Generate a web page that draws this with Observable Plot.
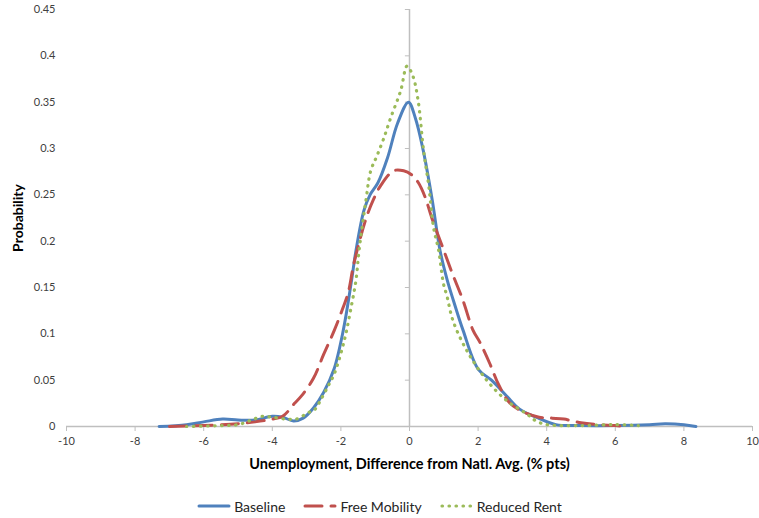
<!DOCTYPE html>
<html>
<head>
<meta charset="utf-8">
<script src="https://cdn.jsdelivr.net/npm/d3@7"></script>
<script src="https://cdn.jsdelivr.net/npm/@observablehq/plot@0.6"></script>
<style>
  html, body { margin: 0; padding: 0; background: #fff; }
  #wrap { width: 759px; height: 518px; font-family: Lato, "Open Sans", sans-serif; }
  #legend { display: flex; justify-content: center; align-items: center; height: 22px; margin-top: 10px; font-size: 14px; color: #262626; }
  .item { display: flex; align-items: center; margin: 0 9px; }
  .item svg { margin-right: 3px; }
</style>
</head>
<body>
<div id="wrap"></div>
<script>
// ---- data ----
const xTicks = [-10, -8, -6, -4, -2, 0, 2, 4, 6, 8, 10];
const yTicks = [0, 0.05, 0.1, 0.15, 0.2, 0.25, 0.3, 0.35, 0.4, 0.45];
const seriesNames = ["Baseline", "Free Mobility", "Reduced Rent"];

const baselineX = [-7.3, -6.5, -6.0, -5.45, -5.0, -4.5, -4.0, -3.7, -3.38, -3.1, -2.8, -2.5, -2.2, -1.93, -1.7, -1.56, -1.33, -1.15, -0.92, -0.64, -0.35, -0.03, 0.17, 0.4, 0.66, 0.89, 1.1, 1.28, 1.56, 2.0, 2.39, 2.83, 3.2, 3.69, 4.27, 5.0, 6.0, 7.0, 7.45, 8.0, 8.35];
const baselineY = [0, 0.002, 0.005, 0.008, 0.007, 0.007, 0.011, 0.01, 0.006, 0.009, 0.02, 0.037, 0.062, 0.104, 0.155, 0.19, 0.233, 0.25, 0.263, 0.29, 0.327, 0.35, 0.333, 0.298, 0.245, 0.19, 0.158, 0.136, 0.104, 0.062, 0.05, 0.033, 0.019, 0.01, 0.002, 0.001, 0.001, 0.002, 0.003, 0.002, 0];

const freeX = [-7.0, -6.0, -5.0, -4.5, -4.0, -3.7, -3.35, -3.15, -2.8, -2.5, -2.19, -1.95, -1.79, -1.62, -1.27, -1.05, -0.84, -0.46, -0.17, 0.05, 0.26, 0.45, 0.66, 0.95, 1.24, 1.56, 1.85, 2.05, 2.34, 2.6, 2.91, 3.3, 3.78, 4.16, 4.5, 5.0, 5.5, 6.0, 6.3];
const freeY = [0, 0.001, 0.003, 0.005, 0.008, 0.011, 0.025, 0.033, 0.052, 0.078, 0.104, 0.127, 0.144, 0.176, 0.224, 0.245, 0.26, 0.276, 0.276, 0.272, 0.263, 0.248, 0.224, 0.195, 0.166, 0.136, 0.104, 0.091, 0.068, 0.045, 0.026, 0.016, 0.01, 0.009, 0.008, 0.004, 0.002, 0.001, 0];

const rentX = [-6.5, -5.5, -5.0, -4.6, -4.3, -4.0, -3.6, -3.3, -2.95, -2.77, -2.57, -2.34, -2.19, -1.9, -1.7, -1.56, -1.47, -1.27, -1.13, -0.95, -0.75, -0.55, -0.26, -0.07, 0.1, 0.25, 0.41, 0.56, 0.7, 0.85, 0.99, 1.09, 1.27, 1.67, 2.25, 2.83, 3.4, 3.69, 4.0, 5.0, 6.0, 6.67];
const rentY = [0, 0.001, 0.002, 0.007, 0.011, 0.01, 0.008, 0.008, 0.015, 0.018, 0.03, 0.046, 0.057, 0.093, 0.129, 0.158, 0.19, 0.244, 0.276, 0.292, 0.311, 0.333, 0.362, 0.389, 0.378, 0.352, 0.298, 0.26, 0.215, 0.19, 0.154, 0.141, 0.114, 0.082, 0.05, 0.028, 0.014, 0.006, 0.002, 0.001, 0.002, 0.001];

const colors = ["#4F81BD", "#C0504D", "#9BBB59"];
const styles = [
  {strokeWidth: 3, strokeDasharray: null, strokeLinecap: "round"},
  {strokeWidth: 3, strokeDasharray: "17 9", strokeLinecap: "round"},
  {strokeWidth: 3.2, strokeDasharray: "0.5 6.5", strokeLinecap: "round"}
];

const toRows = (xs, ys) => xs.map((x, i) => ({x, y: ys[i]}));
const series = [toRows(baselineX, baselineY), toRows(freeX, freeY), toRows(rentX, rentY)];

const axisColor = "#BFBFBF";
const chart = Plot.plot({
  width: 759,
  height: 485,
  marginLeft: 66,
  marginRight: 7,
  marginTop: 9,
  marginBottom: 59,
  style: {fontFamily: "Lato, 'Open Sans', sans-serif", fontSize: "11px", color: "#404040", background: "#fff"},
  x: {domain: [-10, 10]},
  y: {domain: [0, 0.45]},
  marks: [
    Plot.axisY({ticks: yTicks, tickSize: 0, tickPadding: 11, tickFormat: d => String(d), label: null}),
    Plot.axisX({ticks: xTicks, tickSize: 5, tickPadding: 6, tickFormat: d => String(d), stroke: axisColor, label: null}),
    Plot.ruleY([0], {stroke: axisColor, strokeWidth: 1.5}),
    Plot.ruleX([0], {stroke: axisColor, strokeWidth: 1.5}),
    Plot.ruleY(yTicks, {x1: -0.12, x2: 0, stroke: axisColor}),
    ...series.map((data, i) => Plot.line(data, {x: "x", y: "y", stroke: colors[i], curve: "catmull-rom", ...styles[i]})),
    Plot.text(["Probability"], {frameAnchor: "left", textAnchor: "middle", rotate: -90, dx: -48, fontWeight: "bold", fontSize: 14, fill: "#000"}),
    Plot.text(["Unemployment, Difference from Natl. Avg. (% pts)"], {frameAnchor: "bottom", dy: 42, fontWeight: "bold", fontSize: 14.5, fill: "#000"})
  ]
});

const wrap = document.getElementById("wrap");
wrap.appendChild(chart);

const legend = document.createElement("div");
legend.id = "legend";
seriesNames.forEach((name, i) => {
  const item = document.createElement("div");
  item.className = "item";
  const s = styles[i];
  item.innerHTML = `<svg width="34" height="8"><line x1="2" y1="4" x2="32" y2="4" stroke="${colors[i]}" stroke-width="${s.strokeWidth}" stroke-linecap="${s.strokeLinecap}" ${s.strokeDasharray ? `stroke-dasharray="${s.strokeDasharray}"` : ""}/></svg><span>${name}</span>`;
  legend.appendChild(item);
});
wrap.appendChild(legend);
</script>
</body>
</html>
